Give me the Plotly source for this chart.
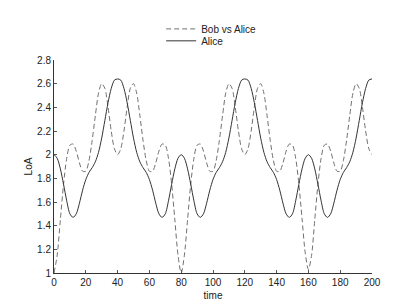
import plotly.graph_objects as go

time = list(range(0, 201, 2))

alice = [
    2.00, 1.97, 1.88, 1.75, 1.61, 1.50, 1.47, 1.50, 1.59, 1.70,
    1.79, 1.85, 1.89, 1.94, 2.02, 2.14, 2.29, 2.44, 2.56, 2.63,
    2.64, 2.63, 2.56, 2.44, 2.29, 2.14, 2.02, 1.94, 1.89, 1.85,
    1.79, 1.70, 1.59, 1.50, 1.47, 1.50, 1.61, 1.75, 1.88, 1.97,
    2.00, 1.97, 1.88, 1.75, 1.61, 1.50, 1.47, 1.50, 1.59, 1.70,
    1.79, 1.85, 1.89, 1.94, 2.02, 2.14, 2.29, 2.44, 2.56, 2.63,
    2.64, 2.63, 2.56, 2.44, 2.29, 2.14, 2.02, 1.94, 1.89, 1.85,
    1.79, 1.70, 1.59, 1.50, 1.47, 1.50, 1.61, 1.75, 1.88, 1.97,
    2.00, 1.97, 1.88, 1.75, 1.61, 1.50, 1.47, 1.50, 1.59, 1.70,
    1.79, 1.85, 1.89, 1.94, 2.02, 2.14, 2.29, 2.44, 2.56, 2.63,
    2.64,
]

bob = [
    1.00, 1.15, 1.45, 1.75, 1.97, 2.08, 2.09, 2.03, 1.93, 1.86,
    1.86, 1.95, 2.12, 2.33, 2.52, 2.60, 2.56, 2.40, 2.20, 2.05,
    2.00, 2.05, 2.20, 2.40, 2.56, 2.60, 2.52, 2.33, 2.12, 1.95,
    1.86, 1.86, 1.93, 2.03, 2.09, 2.08, 1.97, 1.75, 1.45, 1.15,
    1.00, 1.15, 1.45, 1.75, 1.97, 2.08, 2.09, 2.03, 1.93, 1.86,
    1.86, 1.95, 2.12, 2.33, 2.52, 2.60, 2.56, 2.40, 2.20, 2.05,
    2.00, 2.05, 2.20, 2.40, 2.56, 2.60, 2.52, 2.33, 2.12, 1.95,
    1.86, 1.86, 1.93, 2.03, 2.09, 2.08, 1.97, 1.75, 1.46, 1.17,
    1.03, 1.15, 1.45, 1.75, 1.97, 2.08, 2.09, 2.03, 1.93, 1.86,
    1.86, 1.95, 2.12, 2.33, 2.52, 2.60, 2.56, 2.40, 2.20, 2.05,
    2.00,
]

x_ticks = list(range(0, 201, 20))
y_ticks = [1, 1.2, 1.4, 1.6, 1.8, 2, 2.2, 2.4, 2.6, 2.8]
y_tick_labels = ["1", "1.2", "1.4", "1.6", "1.8", "2", "2.2", "2.4", "2.6", "2.8"]

fig = go.Figure()
fig.add_trace(go.Scatter(
    x=time, y=bob, name="Bob vs Alice", mode="lines", legend="legend",
    line=dict(color="#707070", width=1, dash="5px,3px", shape="spline", smoothing=0.8),
))
fig.add_trace(go.Scatter(
    x=time, y=alice, name="Alice", mode="lines", legend="legend2",
    line=dict(color="#333333", width=1, shape="spline", smoothing=0.8),
))

axis_common = dict(
    showgrid=False, zeroline=False, showline=True, linecolor="#333333", linewidth=1,
    ticks="inside", ticklen=3, tickcolor="#555555", mirror=False,
    tickfont=dict(size=10, color="#222222"),
)

leg_common = dict(x=0.337, xanchor="left", yanchor="middle", bgcolor="rgba(0,0,0,0)",
                  font=dict(size=10, color="#222222"), itemwidth=30)

title_font = dict(size=10, color="#222222")

fig.update_layout(
    width=410, height=308,
    margin=dict(l=54, r=38, t=60, b=35, autoexpand=False),
    paper_bgcolor="white", plot_bgcolor="white",
    font=dict(family="Liberation Sans, Arial, sans-serif", size=10, color="#222222"),
    xaxis=dict(range=[0, 200], tickvals=x_ticks,
               title=dict(text="time", standoff=4, font=title_font), **axis_common),
    yaxis=dict(range=[1, 2.8], tickvals=y_ticks, ticktext=y_tick_labels,
               title=dict(text="LoA", standoff=2, font=title_font), **axis_common),
    legend=dict(y=1.146, **leg_common),
    legend2=dict(y=1.090, **leg_common),
    showlegend=True,
)

fig.write_html("out.html", config={"displayModeBar": False},
               post_script="document.body.style.margin='0';document.body.style.padding='0';")
